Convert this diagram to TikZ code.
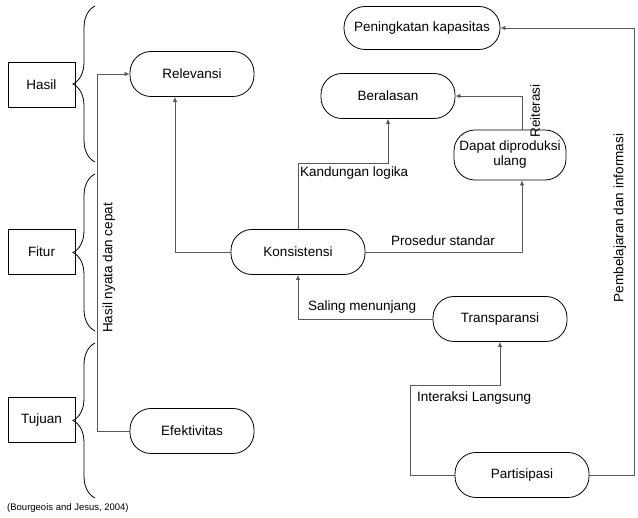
\documentclass[tikz,border=0pt]{standalone}
\usepackage{fontspec}
\setmainfont{Liberation Sans}
\usetikzlibrary{arrows.meta,positioning,calc,decorations.pathreplacing}

\begin{document}
\begin{tikzpicture}[
      x=1pt,y=-1pt,
      font=\fontsize{13.5}{15}\selectfont,
      box/.style={draw,thick,minimum width=67pt,minimum height=45pt,inner sep=0pt},
      term/.style={draw,thick,rounded corners=21pt,minimum height=45pt,inner sep=2pt,align=center},
      arr/.style={-{Latex[length=5pt,width=4.5pt]},draw=black!65,thick},
      brc/.style={decorate,decoration={brace,amplitude=22pt},thick},
      lbl/.style={inner sep=1pt},
    ]
    \useasboundingbox (0,0) rectangle (638,518);
    % left column
    \node[box] (hasil) at (41.5,84.5) {Hasil};
    \node[box] (fitur) at (41.5,252) {Fitur};
    \node[box] (tujuan) at (41.5,420) {Tujuan};
    \draw[brc] (95,162) -- (95,6);
    \draw[brc] (95,331) -- (95,174);
    \draw[brc] (95,498) -- (95,343);
    % terminals
    \node[term,minimum width=124pt] (rel) at (192,74) {Relevansi};
    \node[term,minimum width=124pt] (efek) at (192,431) {Efektivitas};
    \node[term,minimum width=134pt] (kon) at (298,252) {Konsistensi};
    \node[term,minimum width=134pt] (ber) at (388,96) {Beralasan};
    \node[term,minimum width=156pt,minimum height=43pt] (pen) at (422,28) {Peningkatan kapasitas};
    \node[term,minimum width=112pt,minimum height=50pt] (dap) at (510,155) {Dapat diproduksi\\ulang};
    \node[term,minimum width=134pt] (trans) at (500,319) {Transparansi};
    \node[term,minimum width=134pt] (part) at (522,475) {Partisipasi};

    % connectors
    \draw[arr] (efek.west) -- ++(-32,0) |- (rel.west);
    \draw[arr] (kon.west) -| ($(rel.south)+(-17,0)$);
    \draw[arr] (kon.north) -- ++(0,-66) -| (ber.south);
    \draw[arr] ($(dap.north)+(12,0)$) |- (ber.east);
    \draw[arr] (kon.east) -| ($(dap.south)+(12,0)$);
    \draw[arr] (trans.west) -| (kon.south);
    \draw[arr] (part.west) -- ++(-44,0) |- ($(trans.south)+(0,44)$) -- (trans.south);
    \draw[arr] (part.east) -- ++(45,0) |- (pen.east);

    % labels
    \node[lbl,rotate=90] (lhasil) at (109,268) {Hasil nyata dan cepat};
    \node[lbl,anchor=west] (lkand) at (299,173) {Kandungan logika};
    \node[lbl,rotate=90] (lreit) at (535,111) {Reiterasi};
    \node[lbl] (lpros) at (443,241) {Prosedur standar};
    \node[lbl,anchor=west] (lsal) at (307,307) {Saling menunjang};
    \node[lbl,anchor=west] (linter) at (416,398) {Interaksi Langsung};
    \node[lbl,rotate=90] (lpemb) at (620,218) {Pembelajaran dan informasi};
    \node[lbl,anchor=west,font=\fontsize{9.5}{11}\selectfont] (cite) at (6,508) {(Bourgeois and Jesus, 2004)};
  \end{tikzpicture}
\end{document}
